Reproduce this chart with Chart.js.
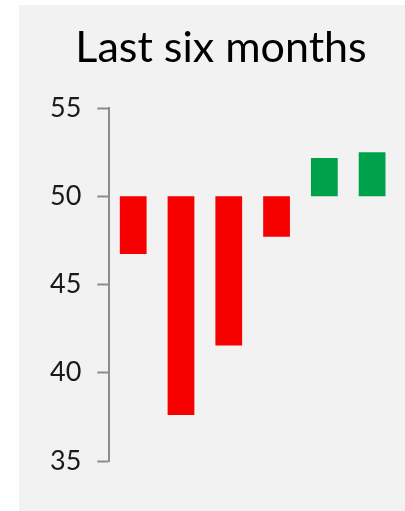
<!DOCTYPE html>
<html>
<head>
<meta charset="utf-8">
<script src="https://cdn.jsdelivr.net/npm/chart.js@4"></script>
<style>
  html, body { margin: 0; padding: 0; background: #fff; overflow: hidden; }
  #panel { position: absolute; left: 19px; top: 5px; width: 404px; height: 506px; background: #f2f2f2; }
  #panel canvas { position: absolute; left: 0; top: 0; }
  #title { position: absolute; left: 0; top: 19px; width: 404px; text-align: center;
           font-family: Lato, sans-serif; font-size: 43px; line-height: 43px; color: #000; white-space: nowrap; }
</style>
</head>
<body>
<div id="panel">
  <canvas id="sixMonths" width="404" height="506"></canvas>
  <div id="title">Last six months</div>
</div>
<script>
const months = ['M1', 'M2', 'M3', 'M4', 'M5', 'M6'];
const baseline = 50;
const values = [46.73, 37.6, 41.54, 47.7, 52.17, 52.5];
const yTicks = [35, 40, 45, 50, 55];

const ctx = document.getElementById('sixMonths').getContext('2d');
new Chart(ctx, {
    type: 'bar',
    data: {
        labels: months,
        datasets: [{
            data: values.map(v => [baseline, v]),
            backgroundColor: values.map(v => v < baseline ? '#f70000' : '#00a14b'),
            borderWidth: 0,
            borderSkipped: false,
            barPercentage: 0.56,
            categoryPercentage: 1
        }]
    },
    options: {
        responsive: false,
        animation: false,
        layout: { padding: { left: 15, right: 27, top: 103, bottom: 50 } },
        plugins: {
            legend: { display: false },
            tooltip: { enabled: false }
        },
        scales: {
            x: { display: false },
            y: {
                min: 35,
                max: 55,
                afterBuildTicks: axis => { axis.ticks = yTicks.map(v => ({ value: v })); },
                border: { display: true, color: '#8c8c8c', width: 2 },
                grid: { drawOnChartArea: false, drawTicks: true, tickLength: 12, tickWidth: 2, tickColor: '#8c8c8c' },
                ticks: {
                    color: '#1a1a1a',
                    padding: 16,
                    font: { family: 'Lato', size: 27 }
                }
            }
        }
    }
});
</script>
</body>
</html>
